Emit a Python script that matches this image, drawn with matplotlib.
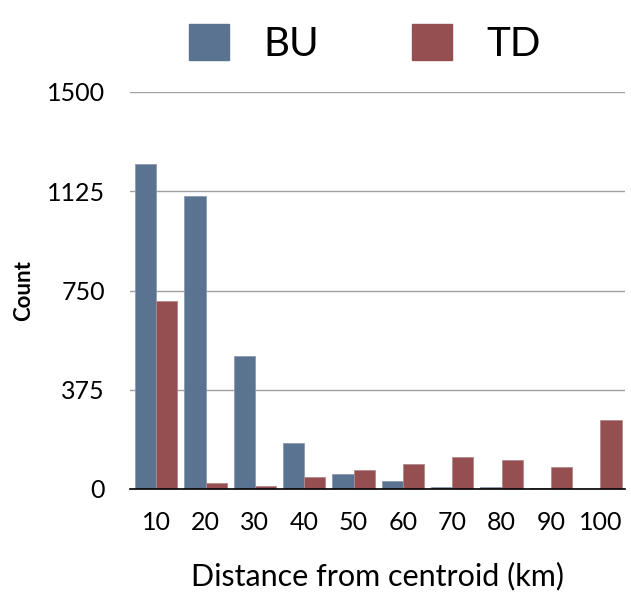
import numpy as np
import matplotlib.pyplot as plt
from matplotlib.patches import Patch

# Counts per distance bin
distances = [10, 20, 30, 40, 50, 60, 70, 80, 90, 100]
bu_counts = [1228, 1107, 503, 174, 57, 30, 9, 8, 2, 0]
td_counts = [711, 23, 11, 45, 72, 94, 121, 110, 83, 261]

bu_color = '#5a7391'
td_color = '#964f51'

plt.rcParams['font.family'] = ['Lato', 'DejaVu Sans']

fig = plt.figure(figsize=(6.31, 5.93), dpi=100)
ax = fig.add_axes([130 / 631, 1 - 489 / 593, 495 / 631, 397 / 593])

x = np.arange(len(distances))
w = 0.43
ax.bar(x - w / 2, bu_counts, w, color=bu_color, edgecolor='#8a9ab0', linewidth=0.6, zorder=3)
ax.bar(x + w / 2, td_counts, w, color=td_color, edgecolor='#b08a8b', linewidth=0.6, zorder=3)

ax.set_xlim(-0.53, len(distances) - 0.5)
ax.set_ylim(0, 1500)
ax.set_yticks([0, 375, 750, 1125, 1500])
ax.set_xticks(x)
ax.set_xticklabels([str(d) for d in distances])
ax.tick_params(axis='both', labelsize=18, length=0, labelcolor='black')
ax.tick_params(axis='x', pad=16)
ax.tick_params(axis='y', pad=18)

ax.grid(axis='y', color='#a0a0a0', linewidth=1, zorder=0)
for s in ['top', 'right', 'left']:
    ax.spines[s].set_visible(False)
ax.spines['bottom'].set_color('black')
ax.spines['bottom'].set_linewidth(1.2)
ax.spines['bottom'].set_zorder(4)

ax.set_xlabel('Distance from centroid (km)', fontsize=22, labelpad=20)
ax.set_ylabel('Count', fontsize=16, fontweight='bold', labelpad=9)

handles = [Patch(color=bu_color, label='BU'), Patch(color=td_color, label='TD')]
fig.legend(handles=handles, loc='upper center', bbox_to_anchor=(0.578, 1.02), ncol=2,
           frameon=False, handlelength=1.0, handleheight=1.0,
           handletextpad=0.85, columnspacing=2.3, prop={'size': 29})

fig.savefig('out.png', dpi=100)
